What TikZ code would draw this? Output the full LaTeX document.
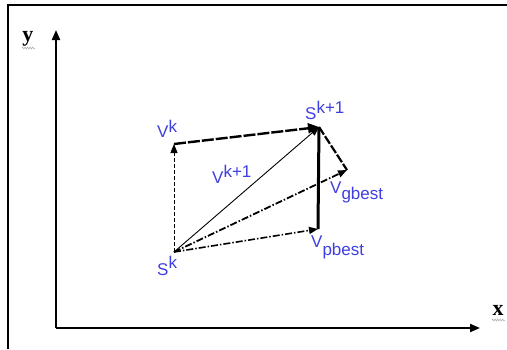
\documentclass[tikz,border=0pt]{standalone}
\usepackage{fontspec}
\setmainfont{Liberation Sans}
\newfontfamily\serifbold{Liberation Serif}
\usetikzlibrary{arrows.meta,decorations.pathmorphing}
\definecolor{lblblue}{RGB}{62,62,225}
\tikzset{
  axis/.style={line width=2pt,-{Triangle[length=10pt,width=8pt]}},
  tip/.style={-{Triangle[length=9pt,width=7pt]}},
  lbl/.style={anchor=base west,inner sep=0pt,text=lblblue,font=\fontsize{17}{20}\selectfont},
  axlbl/.style={inner sep=0pt,font=\serifbold\bfseries\fontsize{22}{24}\selectfont},
  squig/.style={gray!70,line width=0.5pt,decorate,decoration={zigzag,amplitude=1pt,segment length=2.5pt}}
}
\begin{document}
\begin{tikzpicture}[x=1pt,y=-1pt]
\useasboundingbox (0,0) rectangle (507,349);
% frame
\draw[line width=2pt] (8,349) -- (8,5) -- (507,5);
% axes
\coordinate (o) at (56,328);
\coordinate (ytip) at (56,30);
\coordinate (xtip) at (480,328);
\draw[axis] (o) -- (ytip);
\draw[axis] (o) -- (xtip);
\node[axlbl] (ylab) at (28,39) {y};
\node[axlbl] (xlab) at (498,310) {x};
\draw[squig] (22,48) -- (35,48);
\draw[squig] (492,320) -- (505,320);
% points
\coordinate (sk) at (174,252);
\coordinate (vk) at (174,144);
\coordinate (sk1) at (319,127);
\coordinate (gb) at (347,170);
\coordinate (pb) at (318,229);
% connectors
\draw[line width=3pt] (sk1) -- (pb);
\draw[line width=2.2pt,dash pattern=on 9pt off 2pt] (sk1) -- (gb);
\draw[line width=0.9pt,dash pattern=on 4pt off 2pt,tip] (sk) -- (vk);
\draw[line width=2.4pt,dash pattern=on 12pt off 2pt,-{Triangle[length=11pt,width=10pt]}] (vk) -- (sk1);
\draw[line width=0.9pt,tip] (sk) -- (sk1);
\draw[line width=1.8pt,dash pattern=on 7pt off 2pt on 1.5pt off 2pt,tip] (sk) -- (gb);
\draw[line width=1.6pt,dash pattern=on 7pt off 2pt on 1.5pt off 2pt,tip] (sk) -- (pb);
% labels
\node[lbl] (lvk) at (157,137) {V\raisebox{5pt}{k}};
\node[lbl] (lsk1) at (305,119) {S\raisebox{6pt}{k+1}};
\node[lbl] (lvk1) at (212,183) {V\raisebox{6pt}{k+1}};
\node[lbl] (lgb) at (330,193) {V\raisebox{-6pt}{gbest}};
\node[lbl] (lpb) at (311,247) {V\raisebox{-8pt}{pbest}};
\node[lbl] (lsk) at (157,275) {S\raisebox{7pt}{k}};
\end{tikzpicture}
\end{document}
